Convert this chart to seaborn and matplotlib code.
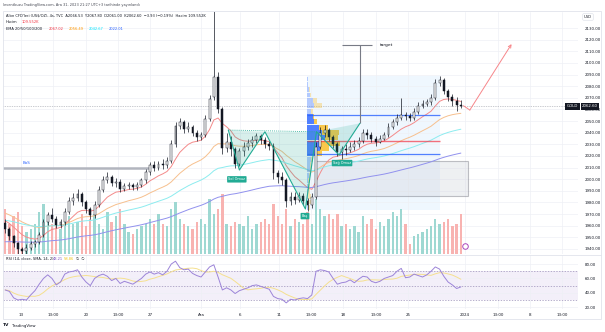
import numpy as np
import pandas as pd
import matplotlib
matplotlib.use("Agg")
import matplotlib.pyplot as plt
import matplotlib.transforms as mtransforms
from matplotlib.patches import Rectangle, Polygon
from matplotlib.lines import Line2D
import seaborn as sns

# ---------------- data (8h candles) ----------------
opens = [1962,1957,1951,1945,1940,1938,1941,1944,1946,1952,
         1963,1969,1966,1961,1963,1972,1981,1984,1987,1980,
         1974,1969,1978,1991,1999,2002,1997,1998,1992,1994,
         1995,1993,1995,1999,2006,2012,2010,2013,2012,2016,
         2030,2046,2049,2043,2045,2040,2036,2038,2052,2071,
         2088,2060,2027,2032,2026,2013,2024,2028,2031,2034,
         2037,2034,2030,2029,2005,2002,1999,1981,1985,1982,
         1986,1981,1978,1985,2028,2040,2042,2036,2030,2023,
         2026,2025,2028,2030,2033,2040,2038,2035,2032,2035,
         2038,2045,2049,2053,2055,2054,2053,2058,2063,2065,
         2066,2070,2083,2085,2076,2071,2067,2064]
closes = [1957,1951,1945,1940,1938,1941,1944,1946,1952,1963,
          1969,1966,1961,1963,1972,1981,1984,1987,1980,1974,
          1969,1978,1991,1999,2002,1997,1998,1992,1994,1995,
          1993,1995,1999,2006,2012,2010,2013,2012,2016,2030,
          2046,2049,2043,2045,2040,2036,2038,2052,2069,2088,
          2060,2027,2032,2026,2013,2024,2028,2031,2034,2037,
          2034,2030,2029,2005,2002,1999,1981,1985,1982,1986,
          1981,1978,1985,2028,2040,2042,2036,2030,2023,2026,
          2025,2028,2030,2033,2040,2038,2035,2032,2035,2038,
          2045,2049,2053,2055,2054,2053,2058,2063,2065,2066,
          2070,2083,2085,2076,2071,2067,2064,2062.6]
highs = [1966,1959,1952,1946,1942,1944,1947,1948,1955,1966,
         1972,1975,1968,1966,1975,1985,1988,1992,1989,1982,
         1976,1981,1994,2003,2006,2004,2001,2000,1997,1998,
         1997,1998,2001,2009,2015,2016,2016,2017,2019,2034,
         2049,2053,2051,2049,2047,2042,2041,2055,2072,2146,
         2092,2062,2040,2037,2028,2027,2032,2035,2037,2040,
         2039,2036,2033,2031,2008,2006,2001,1989,1989,1989,
         1988,1984,1988,2032,2045,2047,2044,2038,2032,2029,
         2030,2032,2034,2036,2043,2043,2041,2037,2038,2041,
         2048,2052,2056,2070,2058,2057,2061,2066,2068,2069,
         2073,2086,2089,2087,2078,2073,2071,2067.8]
lows = [1954,1948,1942,1936,1934,1936,1939,1942,1944,1950,
        1961,1963,1958,1958,1961,1970,1978,1981,1977,1971,
        1966,1967,1976,1989,1997,1994,1993,1989,1990,1992,
        1991,1991,1993,1997,2004,2007,2008,2009,2010,2014,
        2028,2043,2040,2041,2037,2033,2034,2036,2050,2068,
        2057,2022,2023,2020,2010,2011,2020,2025,2028,2031,
        2030,2027,2025,2000,1997,1995,1976,1978,1979,1980,
        1978,1973,1975,1983,2026,2036,2033,2027,2020,2017,
        2021,2023,2025,2028,2031,2035,2032,2029,2031,2034,
        2036,2043,2047,2051,2051,2050,2051,2056,2061,2063,
        2064,2068,2080,2073,2067,2063,2059,2061]
volumes_k = [123,82,104,115,77,60,69,82,115,137,
             104,82,77,69,96,104,82,88,110,77,
             96,110,82,69,115,88,104,123,82,60,
             55,69,77,82,96,82,110,82,77,123,
             142,96,82,77,69,88,96,82,151,110,
             123,164,82,77,88,82,77,104,69,82,
             88,96,82,137,104,82,123,77,96,88,
             82,115,82,151,123,104,110,96,110,77,
             82,69,77,60,104,82,96,69,88,77,
             96,115,104,123,82,27,49,55,60,69,
             77,96,82,88,96,77,82,109.552]
rsi_values = [44,42,33,30,31,30,37,43,52,60,
              65,60,51,55,66,69,70,72,62,55,
              50,60,64,66,63,57,60,53,56,54,
              52,56,60,66,69,66,68,65,70,80,
              84,75,72,73,67,64,62,69,76,79,
              62,44,47,44,39,43,45,47,50,51,
              49,47,45,35,32,31,26,31,30,32,
              33,32,37,70,72,71,69,60,52,54,
              55,58,54,59,63,62,56,54,56,60,
              62,64,70,74,61,62,66,64,62,65,
              70,76,73,63,55,51,46,48.21]

ema_periods = [20, 50, 100, 200]
ema_seeds = [1966, 1972, 1965, 1946]
ema_labels = ["2067.02", "2056.49", "2042.67", "2022.01"]

price_ticks = list(range(1940, 2131, 10))
rsi_ticks = [80, 60, 40, 20]
x_tick_pos = [3.7, 11.35, 19.0, 26.5, 34.0, 46.0, 55.1, 64.3, 71.8, 79.3,
              87.1, 94.6, 108.0, 115.7, 123.2, 130.7]
x_tick_labels = ["13", "13:00", "20", "13:00", "27", "Ara", "6", "11", "13:00",
                 "18", "13:00", "25", "2024", "13:00", "8", "13:00"]

# volume profile (fixed range) rows
vp_centers = [1975.8, 1980.4, 1985.0, 1989.6, 1994.2, 1998.8, 2003.4, 2008.0,
              2012.6, 2017.2, 2021.8, 2026.4, 2031.0, 2035.6, 2040.2, 2044.8,
              2049.4, 2054.0, 2058.6, 2063.2, 2067.8, 2072.4, 2077.0, 2081.6, 2086.2]
vp_up = [1, 1, 1.5, 1.5, 1.5, 1.5, 2, 3, 3, 4.5, 9, 13, 14, 18, 15, 12, 7.5, 6, 4.5, 7.5, 6, 3, 2, 1.5, 1.5]
vp_down = [2, 3, 3, 2, 1.5, 1.5, 1.5, 1.5, 1.5, 1.5, 6, 9, 19, 13, 17, 9, 3, 1, 1.5, 7.5, 4.5, 1.5, 1, 0, 0]
vp_range = (70.8, 102.1, 1973.5, 2088.7)
vp_poc, vp_vah, vp_val = 2033.1, 2055.2, 2021.7

# inverse head & shoulders drawing
hs_x = [52.4, 55.0, 61.0, 70.5, 73.1, 78.4, 83.3]
hs_y = [2042.3, 2007.9, 2040.8, 1974.4, 2040.8, 2020.8, 2048.1]
hs_names = ["Sol Omuz", "Baş", "Sağ Omuz"]
hs_label_pos = [(54.4, 1999.9), (70.4, 1968.3), (79.1, 2013.9)]
target_price = 2115.4
bos_price = 2009.6
ob_box = (73.0, 108.7, 1986.0, 2016.0)
arrow_x = [107.6, 109.1, 118.9]
arrow_y = [2063.2, 2059.5, 2116.2]
last_price = 2062.6

# ---------------- figure ----------------
sns.set_theme(style="white")
plt.rcParams["font.family"] = ["DejaVu Sans"]

W, H = 605, 332
fig = plt.figure(figsize=(6.05, 3.32), dpi=100)
fig.patch.set_facecolor("white")

def fx(px):
    return px / W

def fy(py):
    return 1 - py / H

ax = fig.add_axes([fx(3), fy(254), (578 - 3) / W, (254 - 12) / H])
axr = fig.add_axes([fx(3), fy(309), (578 - 3) / W, (309 - 255) / H], sharex=ax)

n = len(closes)
xs = np.arange(n)
O = np.array(opens, float); C = np.array(closes, float)
Hh = np.array(highs, float); L = np.array(lows, float)
YMIN, YMAX = 1935.7, 2143.8
XMIN, XMAX = -0.5, 134.5
ax.set_xlim(XMIN, XMAX)
ax.set_ylim(YMIN, YMAX)

grid_c = "#eef0f5"
for a in (ax, axr):
    for s in a.spines.values():
        s.set_visible(False)
    a.set_facecolor("white")
    a.grid(True, color=grid_c, lw=0.5)
    a.set_axisbelow(True)

# volume bars (bottom of main panel)
VOL_TOP = 663.0
up = C >= O
vol_h = np.array(volumes_k) / VOL_TOP * (YMAX - YMIN)
ax.bar(xs, vol_h, bottom=YMIN, width=0.55,
       color=np.where(up, "#9ed8d2", "#f8b3b1"), linewidth=0, zorder=1)

# volume profile area box
x0, x1, p0, p1 = vp_range
ax.add_patch(Rectangle((x0, p0), x1 - x0, p1 - p0, facecolor="#2196f3", alpha=0.07,
                       edgecolor="none", zorder=0.5))
# order block rectangle
bx0, bx1, bp0, bp1 = ob_box
ax.add_patch(Rectangle((bx0, bp0), bx1 - bx0, bp1 - bp0, facecolor="#d1d4dc", alpha=0.35,
                       edgecolor="#50535e", lw=0.8, zorder=1.5))

# EMAs
ema_colors = ["#f48a8a", "#f7c08e", "#8cecef", "#9191ee"]
for per, seed, col in zip(ema_periods, ema_seeds, ema_colors):
    ema = pd.Series([seed] + list(closes)).ewm(span=per / 2, adjust=False).mean().iloc[1:].values
    sns.lineplot(x=xs, y=ema, ax=ax, color=col, linewidth=0.7, legend=False, zorder=2)

# volume profile rows
row_h = vp_centers[1] - vp_centers[0]
px_unit = 1 / 4.26
for pc, u, d in zip(vp_centers, vp_up, vp_down):
    in_va = vp_val - 0.5 <= pc <= vp_vah + 0.5
    a_b = 0.8 if in_va else 0.3
    a_y = 0.85 if in_va else 0.35
    ax.add_patch(Rectangle((x0, pc - row_h / 2 + 0.2), u * px_unit, row_h - 0.4,
                           facecolor="#2962ff", alpha=a_b, edgecolor="none", zorder=3))
    ax.add_patch(Rectangle((x0 + u * px_unit, pc - row_h / 2 + 0.2), d * px_unit, row_h - 0.4,
                           facecolor="#fbc02d", alpha=a_y, edgecolor="none", zorder=3))
ax.hlines([vp_vah, vp_val], x0, x1, color="#2962ff", lw=0.9, alpha=0.8, zorder=3.5)
ax.hlines(vp_poc, x0, x1, color="#f23645", lw=1.0, alpha=0.7, zorder=3.5)

# candles
ax.vlines(xs, L, Hh, color="#131722", lw=0.5, zorder=4)
body_b = np.minimum(O, C)
body_h = np.maximum(np.abs(C - O), 0.4)
ax.bar(xs, body_h, bottom=body_b, width=0.45, color=np.where(up, "white", "#131722"),
       edgecolor="#131722", linewidth=0.35, zorder=4.5)

# BoS line
ax.hlines(bos_price, XMIN, 34.0, color="#b2b5be", lw=1.8, zorder=2.5)
ax.text(5.1, bos_price + 2.5, "BoS", color="#2962ff", fontsize=2.9, ha="center", va="bottom", zorder=5)

# current price dotted line
ax.axhline(last_price, color="#9598a1", lw=0.5, ls=(0, (1, 1.5)), zorder=2)

# head & shoulders pattern
teal = "#22ab94"
tri_idx = [(0, 1, 2), (2, 3, 4), (4, 5, 6)]
for t in tri_idx:
    pts = [(hs_x[i], hs_y[i]) for i in t]
    ax.add_patch(Polygon(pts, closed=True, facecolor=teal, alpha=0.18, edgecolor="none", zorder=5))
ax.plot(hs_x, hs_y, color=teal, lw=0.8, zorder=5.5)
ax.plot([hs_x[0], hs_x[4]], [hs_y[0], hs_y[4]], color=teal, lw=0.6, ls=(0, (1, 1.5)), zorder=5.5)
for name, (lx, ly) in zip(hs_names, hs_label_pos):
    ax.text(lx, ly, name, color="white", fontsize=2.5, ha="center", va="center", zorder=6,
            bbox=dict(boxstyle="round,pad=0.35,rounding_size=0.2", fc=teal, ec="none"))

# target
ax.vlines(hs_x[-1], hs_y[-1], target_price, color="#787b86", lw=0.8, zorder=5)
ax.hlines(target_price, 79.0, 86.05, color="#787b86", lw=0.8, zorder=5)
ax.text(88.0, target_price, "target", color="#131722", fontsize=3.2, ha="left", va="center", zorder=6)

# projection arrow
ax.plot(arrow_x[:2], arrow_y[:2], color="#f7868a", lw=0.7, zorder=6)
ax.annotate("", xy=(arrow_x[2], arrow_y[2]), xytext=(arrow_x[1], arrow_y[1]),
            arrowprops=dict(arrowstyle="->", color="#f7868a", lw=0.7, mutation_scale=5,
                            shrinkA=0, shrinkB=0), zorder=6)

# small event icon
ax.plot([107.9], [1942.5], marker="o", ms=4, mfc="white", mec="#ab47bc", mew=0.7, zorder=6, clip_on=False)

# price axis
ax.yaxis.tick_right()
ax.set_yticks(price_ticks)
ax.set_yticklabels([f"{v:.2f}" for v in price_ticks])
ax.tick_params(axis="y", length=0, pad=5, labelsize=2.9, labelcolor="#131722")
ax.tick_params(axis="x", length=0, labelbottom=False)
ax.set_xlabel(""); ax.set_ylabel("")

# last price labels
tr = mtransforms.blended_transform_factory(fig.transFigure, ax.transData)
ax.text(fx(590), last_price, "2062.60", transform=tr, color="white", fontsize=2.8,
        ha="center", va="center", zorder=10, clip_on=False,
        bbox=dict(boxstyle="square,pad=0.35", fc="#131722", ec="none"))
ax.text(fx(572.5), last_price, "GOLD", transform=tr, color="white", fontsize=2.8,
        ha="center", va="center", zorder=10, clip_on=False,
        bbox=dict(boxstyle="square,pad=0.35", fc="#131722", ec="none"))

# ---------------- RSI panel ----------------
axr.set_ylim(17.5, 92.6)
axr.axhspan(30, 70, color="#7e57c2", alpha=0.09, lw=0, zorder=0.5)
axr.hlines([70, 50, 30], XMIN, XMAX, color="#9a8fb8", lw=0.5, ls=(0, (2, 2)), zorder=1)
rsi_ma = pd.Series(rsi_values).rolling(7, min_periods=1).mean().values
sns.lineplot(x=xs, y=rsi_ma, ax=axr, color="#f5e08f", linewidth=0.7, legend=False, zorder=2)
sns.lineplot(x=xs, y=rsi_values, ax=axr, color="#9c84d8", linewidth=0.7, legend=False, zorder=3)
axr.yaxis.tick_right()
axr.set_yticks(rsi_ticks)
axr.set_yticklabels([f"{v:.2f}" for v in rsi_ticks])
axr.tick_params(axis="y", length=0, pad=5, labelsize=2.9, labelcolor="#131722")
axr.set_xticks(x_tick_pos)
axr.set_xticklabels(x_tick_labels)
axr.tick_params(axis="x", length=0, pad=3, labelsize=2.9, labelcolor="#131722")
axr.set_xlim(XMIN, XMAX)
axr.set_xlabel(""); axr.set_ylabel("")

# ---------------- frame & texts ----------------
fig.add_artist(Rectangle((fx(3), fy(319)), (601 - 3) / W, (319 - 10.5) / H, transform=fig.transFigure,
                         fill=False, ec="#e0e3eb", lw=0.6))
fig.add_artist(Line2D([fx(3), fx(601)], [fy(254.6)] * 2, transform=fig.transFigure, color="#e0e3eb", lw=0.6))

fig.text(fx(588), fy(17), "USD", fontsize=2.7, ha="center", va="center", color="#131722",
         bbox=dict(boxstyle="round,pad=0.35,rounding_size=0.3", fc="white", ec="#e0e3eb", lw=0.5))

txt = "#131722"
fig.text(fx(3), fy(5), "leventbuzu TradingView.com, Ara 31, 2023 21:27 UTC+3 tarihinde yayınlandı",
         fontsize=2.55, color="#434651", va="center", ha="left")
fig.text(fx(6), fy(15.5),
         "Altın CFD'leri (US$/OZ), 4s, TVC  A2066.53  Y2067.80  D2061.00  K2062.60  −3.93 (−0.19%)  Hacim 109.552K",
         fontsize=2.6, color=txt, va="center", ha="left")
fig.text(fx(6), fy(22), "Hacim", fontsize=2.6, color=txt, va="center", ha="left")
fig.text(fx(22), fy(22), "109.552K", fontsize=2.6, color="#f23645", va="center", ha="left")
fig.text(fx(6), fy(29), "EMA 20/50/100/200", fontsize=2.6, color=txt, va="center", ha="left")
ema_txt_cols = ["#f23645", "#ff9800", "#00e5ff", "#2962ff"]
for k, (lab, col) in enumerate(zip(ema_labels, ema_txt_cols)):
    fig.text(fx(49 + k * 20), fy(29), lab, fontsize=2.6, color=col, va="center", ha="left")

fig.text(fx(6), fy(259), "RSI (14, close, SMA, 14, 2)", fontsize=2.6, color=txt, va="center", ha="left")
fig.text(fx(53), fy(259), "48.21", fontsize=2.6, color="#7e57c2", va="center", ha="left")
fig.text(fx(64), fy(259), "58.86", fontsize=2.6, color="#f0c419", va="center", ha="left")
fig.text(fx(76), fy(259), "∅  ∅", fontsize=2.6, color=txt, va="center", ha="left")

fig.text(fx(3), fy(325.5), "TV", fontsize=3.2, color="#131722", va="center", ha="left", fontweight="bold")
fig.text(fx(12), fy(325.5), "TradingView", fontsize=2.8, color="#131722", va="center", ha="left")

fig.savefig("out.png", dpi=100)
